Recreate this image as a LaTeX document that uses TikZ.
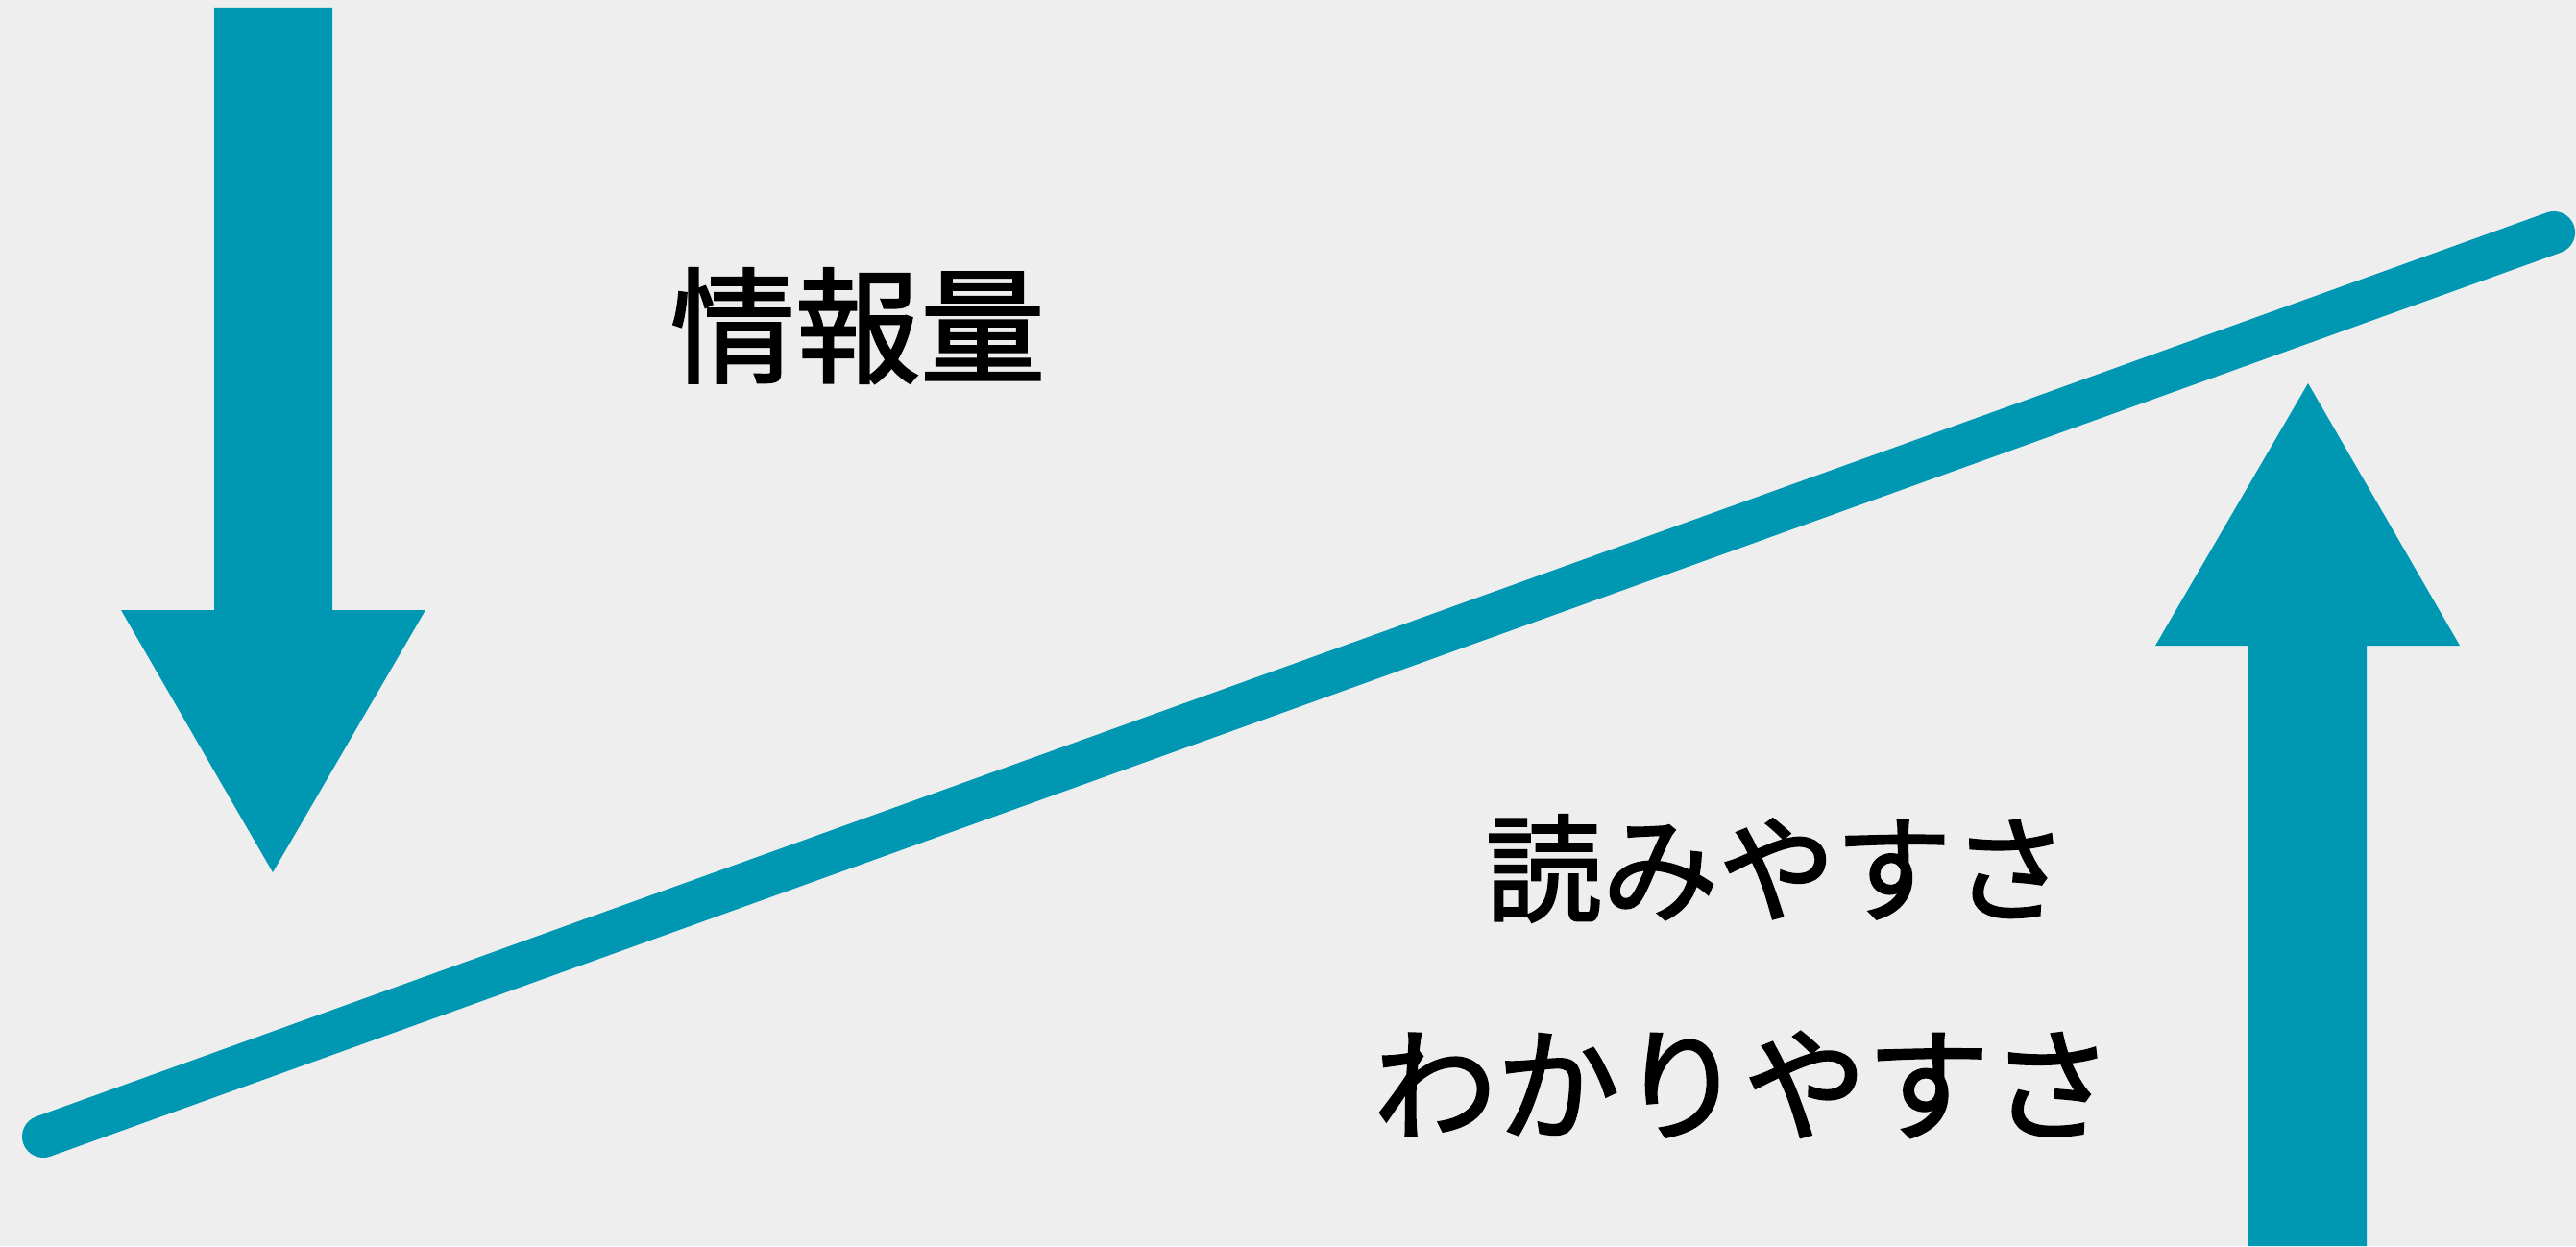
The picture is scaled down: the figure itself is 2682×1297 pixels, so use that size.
\documentclass[tikz,border=0pt]{standalone}
\usepackage{fontspec}
\newfontfamily\jpfont[FakeBold=1.8]{Noto Sans CJK JP}
\definecolor{teal}{RGB}{0,151,178}
\definecolor{paper}{RGB}{238,238,239}
\begin{document}
\begin{tikzpicture}[x=0.01cm,y=-0.01cm,
  txt/.style={inner sep=0pt,text=black},
  bigarrow/.style={fill=teal,draw=none}]
\fill[paper] (0,0) rectangle (2682,1297);
\useasboundingbox (0,0) rectangle (2682,1297);
% labels
\node[txt] (info) at (893,339) {\fontsize{37pt}{44pt}\selectfont\jpfont 情報量};
\node[txt] (read) at (1850,904) {\fontsize{34.5pt}{42pt}\selectfont\jpfont 読みやすさ};
\node[txt] (und) at (1815,1129) {\fontsize{36.5pt}{44pt}\selectfont\jpfont わかりやすさ};
% down arrow
\fill[bigarrow] (223,8) -- (346,8) -- (346,635) -- (443,635) -- (284,908) -- (126,635) -- (223,635) -- cycle;
% up arrow
\fill[bigarrow] (2341,1297) -- (2341,672) -- (2244,672) -- (2403,399) -- (2561,672) -- (2464,672) -- (2464,1297) -- cycle;
% diagonal line
\coordinate (ls) at (45,1183);
\coordinate (le) at (2659,242);
\draw[teal,line width=0.44cm,line cap=round] (ls) -- (le);
\end{tikzpicture}
\end{document}
